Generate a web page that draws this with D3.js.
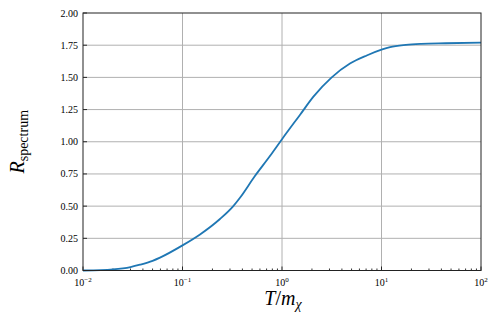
<!DOCTYPE html>
<html>
<head>
<meta charset="utf-8">
<script src="https://cdn.jsdelivr.net/npm/d3@7"></script>
<style>
  body { margin: 0; background: #fff; }
  svg text { font-family: "Liberation Serif", "DejaVu Serif", serif; fill: #000; }
</style>
</head>
<body>
<svg id="chart" width="498" height="320"></svg>
<script>
// curve
let tValues = [0.01, 0.015, 0.02, 0.03, 0.0374, 0.05, 0.0594, 0.1, 0.15, 0.238, 0.324, 0.378, 0.53, 0.75, 1.0, 1.52, 2.07, 3.16, 4.82, 7.1, 10, 12.2, 17.6, 25, 44, 100];
let rValues = [0.0, 0.003, 0.009, 0.027, 0.045, 0.075, 0.1, 0.195, 0.28, 0.40, 0.50, 0.565, 0.73, 0.885, 1.02, 1.21, 1.35, 1.50, 1.607, 1.67, 1.715, 1.735, 1.752, 1.76, 1.765, 1.77];
let yTicks = [0, 0.25, 0.5, 0.75, 1.0, 1.25, 1.5, 1.75, 2.0];
let xTicks = [0.01, 0.1, 1, 10, 100];
let xTickExp = ["\u22122", "\u22121", "0", "1", "2"];

let chart = d3.select("#chart");
let pLeft = 83, pRight = 481, pTop = 13, pBottom = 270.5;

let x = d3.scaleLog().domain([0.01, 100]).range([pLeft, pRight]);
let y = d3.scaleLinear().domain([0, 2]).range([pBottom, pTop]);

// grid
chart.append("g").selectAll("line")
    .data(yTicks.slice(1, -1)).enter()
    .append("line")
    .attr("x1", pLeft).attr("x2", pRight)
    .attr("y1", d => y(d)).attr("y2", d => y(d))
    .attr("stroke", "#b0b0b0").attr("stroke-width", 1);
chart.append("g").selectAll("line")
    .data(xTicks.slice(1, -1)).enter()
    .append("line")
    .attr("x1", d => x(d)).attr("x2", d => x(d))
    .attr("y1", pTop).attr("y2", pBottom)
    .attr("stroke", "#b0b0b0").attr("stroke-width", 1);

// minor x ticks (inward)
let minors = [];
[0.01, 0.1, 1, 10].forEach(function(dec) {
    for (let k = 2; k <= 9; k++) minors.push(dec * k);
});
chart.append("g").selectAll("line")
    .data(minors).enter()
    .append("line")
    .attr("x1", d => x(d)).attr("x2", d => x(d))
    .attr("y1", pBottom).attr("y2", pBottom - 2)
    .attr("stroke", "#000").attr("stroke-width", 0.8);

// major ticks (inward)
chart.append("g").selectAll("line")
    .data(xTicks).enter()
    .append("line")
    .attr("x1", d => x(d)).attr("x2", d => x(d))
    .attr("y1", pBottom).attr("y2", pBottom - 4)
    .attr("stroke", "#000").attr("stroke-width", 0.8);
chart.append("g").selectAll("line")
    .data(yTicks).enter()
    .append("line")
    .attr("x1", pLeft).attr("x2", pLeft + 4)
    .attr("y1", d => y(d)).attr("y2", d => y(d))
    .attr("stroke", "#000").attr("stroke-width", 0.8);

// curve
chart.append("path")
    .datum(tValues.map((t, i) => [t, rValues[i]]))
    .attr("fill", "none")
    .attr("stroke", "#1f77b4")
    .attr("stroke-width", 1.8)
    .attr("d", d3.line()
        .curve(d3.curveMonotoneX)
        .x(d => x(d[0]))
        .y(d => y(d[1])));

// frame
chart.append("rect")
    .attr("x", pLeft).attr("y", pTop)
    .attr("width", pRight - pLeft).attr("height", pBottom - pTop)
    .attr("fill", "none").attr("stroke", "#222").attr("stroke-width", 1);

// y tick labels
chart.append("g").selectAll("text")
    .data(yTicks).enter()
    .append("text")
    .attr("x", pLeft - 5)
    .attr("y", d => y(d) + 3.5)
    .style("font-size", "10px")
    .style("text-anchor", "end")
    .text(d => d3.format(".2f")(d));

// x tick labels 10^n
let xl = chart.append("g").selectAll("text")
    .data(xTicks).enter()
    .append("text")
    .attr("x", d => x(d))
    .attr("y", pBottom + 15)
    .style("font-size", "10px")
    .style("text-anchor", "middle");
xl.append("tspan").text("10");
xl.append("tspan")
    .attr("dy", -4)
    .style("font-size", "7px")
    .text((d, i) => xTickExp[i]);

// x label
let xlab = chart.append("text")
    .attr("x", 283)
    .attr("y", 305)
    .style("font-size", "20px")
    .style("text-anchor", "middle");
xlab.append("tspan").style("font-style", "italic").text("T");
xlab.append("tspan").text("/");
xlab.append("tspan").style("font-style", "italic").text("m");
xlab.append("tspan").attr("dy", 4).style("font-size", "14px").style("font-style", "italic").text("\u03c7");

// y label
let ylab = chart.append("text")
    .attr("transform", "translate(24," + ((pTop + pBottom) / 2) + ") rotate(-90)")
    .style("font-size", "20px")
    .style("text-anchor", "middle");
ylab.append("tspan").style("font-style", "italic").text("R");
ylab.append("tspan").attr("dy", 4).style("font-size", "14px").text("spectrum");
</script>
</body>
</html>
